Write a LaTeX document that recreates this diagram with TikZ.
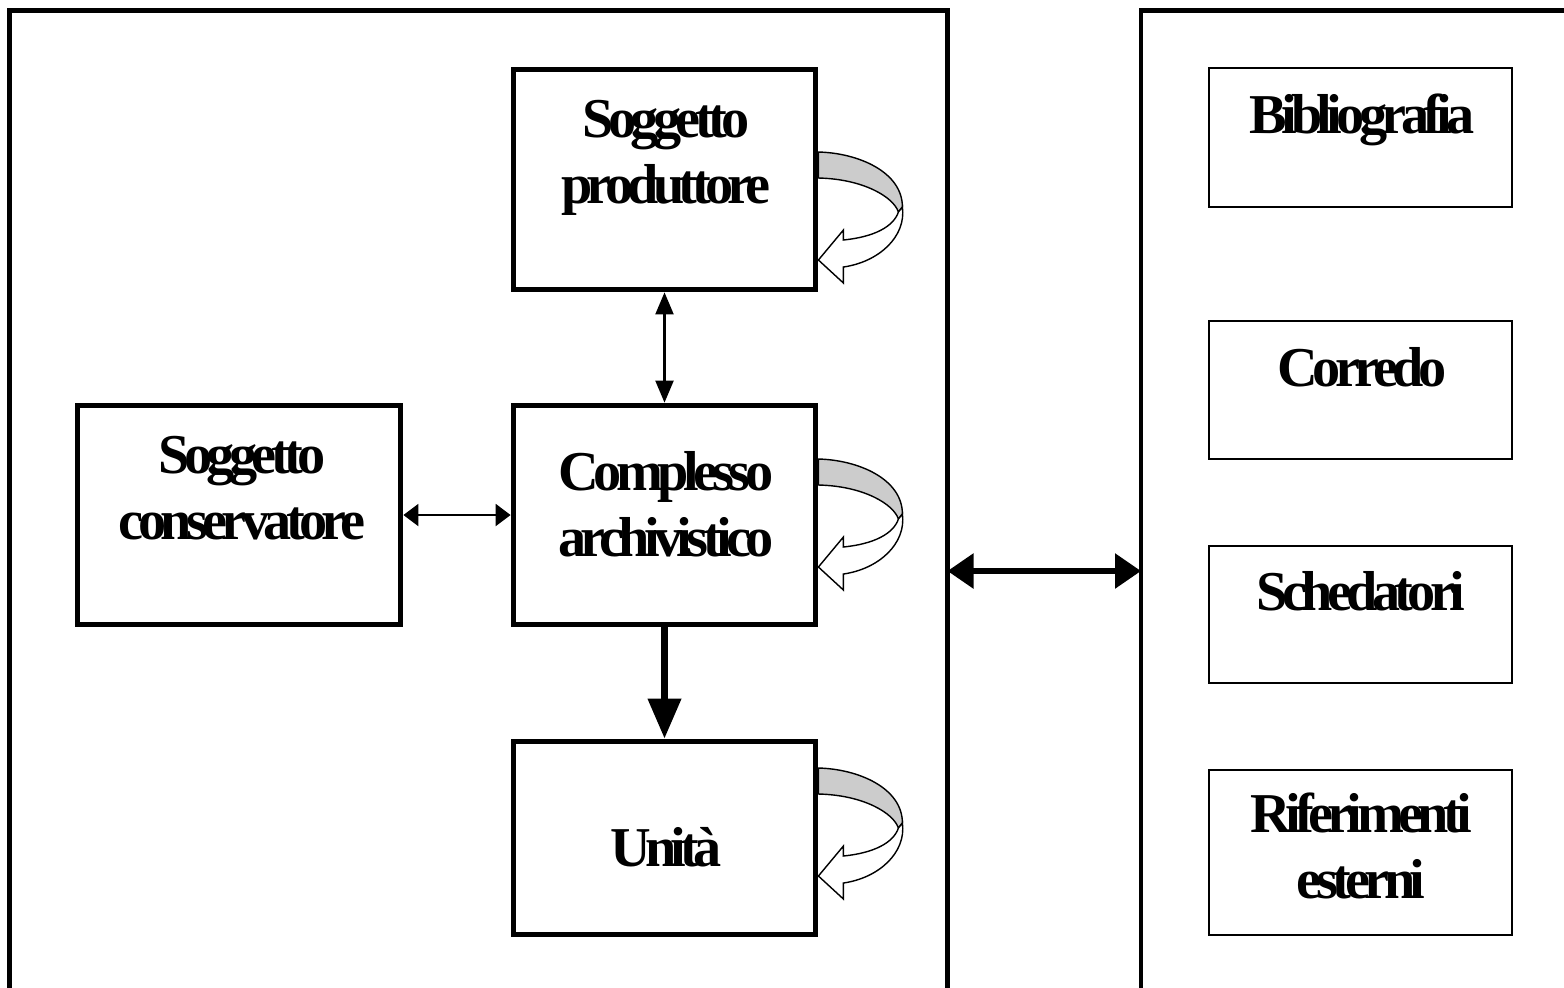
\documentclass[tikz,border=0pt]{standalone}
\usepackage{fontspec}
\setmainfont{Liberation Serif}
\newfontfamily\boxfont[LetterSpace=-10]{Liberation Serif}
\usetikzlibrary{arrows.meta}
\definecolor{bandgray}{gray}{0.8}
\tikzset{bigbox/.style={draw,line width=1.6pt,minimum width=3.02cm,inner sep=0pt}}
\tikzset{smallbox/.style={draw,line width=0.6pt,minimum width=3.03cm,inner sep=0pt}}
\tikzset{boxtext/.style={align=center,inner sep=0pt,%
    font=\boxfont\bfseries\fontsize{16}{18.8}\selectfont}}
\tikzset{frameline/.style={line width=1.4pt}}
\tikzset{ptrv/.style={line width=0.6pt,%
    {Triangle[length=2.2mm,width=1.8mm]}-{Triangle[length=2.2mm,width=1.8mm]}}}
\tikzset{ptrh/.style={line width=0.6pt,%
    {Triangle[length=1.5mm,width=2.2mm]}-{Triangle[length=1.5mm,width=2.2mm]}}}
\tikzset{ptrbig/.style={line width=2pt,-{Triangle[length=4mm,width=3.2mm]}}}
\tikzset{ptrframe/.style={line width=1.6pt,%
    {Triangle[length=2.6mm,width=3.4mm]}-{Triangle[length=2.6mm,width=3.4mm]}}}
% curved self-reference arrow, origin on the right edge of a box
\tikzset{selfloop/.pic={
    \filldraw[fill=bandgray,line width=0.4pt] (0,0) .. controls (40,1) and (84,20) .. (84,55)
      -- (80,60) .. controls (75,45) and (45,27) .. (0,26) -- cycle;
    \filldraw[fill=white,line width=0.4pt] (84,55) .. controls (88,85) and (60,110) .. (25,115)
      -- (25,131) -- (0,108) -- (25,78) -- (25,88)
      .. controls (55,85) and (75,75) .. (80,60) -- cycle;
}}

\begin{document}
\begin{tikzpicture}[x=0.01cm,y=-0.01cm]

	  \useasboundingbox (0,0) rectangle (1564,987);

	  % the two frames
	  \draw [frameline] (9.5,995) -- (9.5,10.5) -- (947.5,10.5) -- (947.5,995);
	  \draw [frameline] (1141,995) -- (1141,10.5) -- (1570,10.5);
	  \coordinate (lframe) at (947.5,571);
	  \coordinate (rframe) at (1141,571);

	  % left frame
	  \node [bigbox,minimum height=2.20cm] (prod) at (664.5,179.5) {};
	  \node [boxtext] (prodtxt) at (666,157.5) {Soggetto\\produttore};

	  \node [bigbox,minimum height=2.19cm] (compl) at (664.5,515) {};
	  \node [boxtext] (compltxt) at (666,504.5) {Complesso\\archivistico};

	  \node [bigbox,minimum width=3.23cm,minimum height=2.19cm] (cons) at (239,515) {};
	  \node [boxtext] (constxt) at (242,488) {Soggetto\\conservatore};

	  \node [bigbox,minimum height=1.93cm] (unit) at (664.5,838) {};
	  \node [boxtext] (unittxt) at (666,847) {Unità};

	  \draw [ptrv] (prod) -- (compl);
	  \draw [ptrh] (cons) -- (compl);
	  \draw [ptrbig] (compl) -- (unit);

	  \pic at (prod.east |- 0,152) {selfloop};
	  \pic at (compl.east |- 0,459) {selfloop};
	  \pic at (unit.east |- 0,768) {selfloop};

	  % right frame
	  \node [smallbox,minimum height=1.39cm] (bibl) at (1360.5,137.5) {};
	  \node [boxtext] (bibltxt) at (1362,119.5) {Bibliografia};

	  \node [smallbox,minimum height=1.38cm] (corr) at (1360.5,390) {};
	  \node [boxtext] (corrtxt) at (1362,367) {Corredo};

	  \node [smallbox,minimum height=1.37cm] (sched) at (1360.5,614.5) {};
	  \node [boxtext] (schedtxt) at (1361,591.5) {Schedatori};

	  \node [smallbox,minimum height=1.65cm] (rif) at (1360.5,852.5) {};
	  \node [boxtext] (riftxt) at (1361,846) {Riferimenti\\esterni};

	  \draw [ptrframe] (lframe) -- (rframe);

\end{tikzpicture}
\end{document}
